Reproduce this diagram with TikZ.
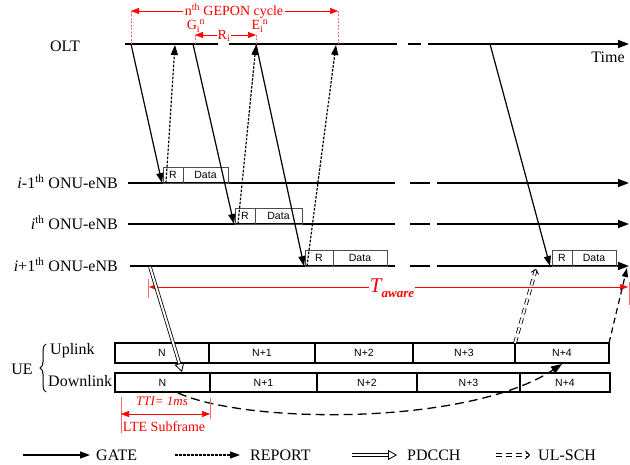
\documentclass[tikz,border=0pt]{standalone}
\usepackage{fontspec}
\setmainfont{Liberation Serif}
\newfontfamily\arialf{Liberation Sans}
\usetikzlibrary{arrows.meta,decorations.pathreplacing}
\begin{document}
\begin{tikzpicture}[x=1pt,y=-1pt,
  tl/.style={line width=1.5pt},
  tlarr/.style={line width=1.5pt,-{Triangle[length=11pt,width=8pt]}},
  gate/.style={line width=1.2pt,-{Triangle[length=10pt,width=7pt]}},
  report/.style={line width=1.2pt,dash pattern=on 2.5pt off 1.5pt,-{Triangle[length=10pt,width=7pt]}},
  pdcch/.style={double,double distance=2pt,line width=0.8pt,-{Triangle[open,length=9pt,width=10pt]}},
  ulsch/.style={double,double distance=2pt,line width=0.8pt,dash pattern=on 6pt off 4pt,-{Straight Barb[length=4pt,width=8pt]}},
  redarr/.style={red,line width=0.5pt,{Triangle[length=8pt,width=6pt]}-{Triangle[length=8pt,width=6pt]}},
  guide/.style={red!60,line width=0.4pt,dash pattern=on 2pt off 1.5pt},
  tick/.style={red!60,line width=0.5pt},
  lbl/.style={font=\fontsize{16}{16}\selectfont,inner sep=0},
  rlbl/.style={text=red,font=\fontsize{14}{14}\selectfont,inner sep=0},
  rbox/.style={draw=black!70,line width=0.6pt,minimum height=16pt,inner sep=0,outer sep=0,font=\arialf\fontsize{10.5}{11}\selectfont},
  ubox/.style={draw,line width=1.3pt,minimum height=20pt,inner sep=0,outer sep=0,font=\arialf\fontsize{10.5}{11}\selectfont},
]
\useasboundingbox (0,0) rectangle (630,465);

% ---- OLT time line ----
\coordinate (oltS) at (125,44);
\coordinate (oltA) at (218,44);
\coordinate (oltB) at (229,44);
\coordinate (oltC) at (397,44);
\coordinate (oltD) at (408,44);
\coordinate (oltE) at (421,44);
\coordinate (oltF) at (428,44);
\coordinate (oltEnd) at (629,44);
\draw[tl] (oltS) -- (oltA);
\draw[tl] (oltB) -- (oltC);
\draw[tl] (oltD) -- (oltE);
\draw[tlarr] (oltF) -- (oltEnd);
\node[lbl] (oltlbl) at (65,46) {OLT};
\node[lbl] (time) at (608,57) {Time};

% ---- ONU time lines ----
\foreach \n/\s/\y in {a/128/183,b/128/224,c/130/266}{
  \coordinate (\n0) at (\s,\y);
  \coordinate (\n1) at (395,\y);
  \coordinate (\n2) at (410,\y);
  \coordinate (\n3) at (430,\y);
  \coordinate (\n4) at (437,\y);
  \coordinate (\n5) at (629,\y);
  \draw[tl] (\n0) -- (\n1);
  \draw[tl] (\n2) -- (\n3);
  \draw[tlarr] (\n4) -- (\n5);
}
\node[lbl,anchor=east] (la) at (118,182) {\textit{i}-1\textsuperscript{th} ONU-eNB};
\node[lbl,anchor=east] (lb) at (118,223) {\textit{i}\textsuperscript{th} ONU-eNB};
\node[lbl,anchor=east] (lc) at (118,265) {\textit{i}+1\textsuperscript{th} ONU-eNB};

% ---- R / Data boxes ----
\node[rbox,minimum width=20pt] (Ra) at (173,175) {R};
\node[rbox,minimum width=45pt] (Da) at (205.5,175) {Data};
\node[rbox,minimum width=20pt] (Rb) at (245,216) {R};
\node[rbox,minimum width=47pt] (Db) at (278.5,216) {Data};
\node[rbox,minimum width=28pt] (Rc) at (319,258) {R};
\node[rbox,minimum width=54pt] (Dc) at (360,258) {Data};
\node[rbox,minimum width=20pt] (Rd) at (562,258) {R};
\node[rbox,minimum width=44pt] (Dd) at (594,258) {Data};

% ---- GATE arrows ----
\coordinate (g1) at (131,44);  \coordinate (g1e) at (162,183);
\coordinate (g2) at (193,44);  \coordinate (g2e) at (234,224);
\coordinate (g3) at (256,44);  \coordinate (g3e) at (304,266);
\coordinate (g4) at (490,44);  \coordinate (g4e) at (550,266);
\draw[gate] (g1) -- (g1e);
\draw[gate] (g2) -- (g2e);
\draw[gate] (g3) -- (g3e);
\draw[gate] (g4) -- (g4e);

% ---- REPORT arrows ----
\coordinate (r1) at (166,183); \coordinate (r1e) at (175,45);
\coordinate (r2) at (238,224); \coordinate (r2e) at (256,45);
\coordinate (r3) at (307,266); \coordinate (r3e) at (336,45);
\draw[report] (r1) -- (r1e);
\draw[report] (r2) -- (r2e);
\draw[report] (r3) -- (r3e);

% ---- red annotations top ----
\coordinate (cycL) at (131,11);
\coordinate (cycR) at (338,11);
\draw[guide] (cycL) -- (131,44);
\draw[guide] (cycR) -- (338,44);
\draw[redarr] (cycL) -- (cycR);
\node[rlbl,fill=white,inner xsep=2pt] (cyc) at (234,11) {n\textsuperscript{th} GEPON cycle};
\node[rlbl,anchor=base] (Gin) at (196,30) {G\textsubscript{i}\kern-0.5pt\textsuperscript{n}};
\node[rlbl,anchor=base] (Ein) at (260,30) {E\textsubscript{i}\kern-0.5pt\textsuperscript{n}};
\coordinate (riL) at (195,35);
\coordinate (riR) at (256,35);
\draw[guide] (riL) -- (195,44);
\draw[guide] (riR) -- (256,44);
\draw[redarr] (riL) -- (riR);
\node[rlbl,fill=white,inner xsep=1pt] (Ri) at (224,36) {R\textsubscript{i}};

% ---- T aware ----
\coordinate (taL) at (149,287);
\coordinate (taR) at (628,287);
\draw[tick] (148,279) -- (148,298);
\draw[tick] (629,282) -- (629,305);
\draw[redarr] (taL) -- (taR);
\node[fill=white,text=red,inner sep=1pt] (taw) at (392,288)
  {\fontsize{21}{21}\selectfont\itshape T\raisebox{-0.25em}{\fontsize{13}{13}\selectfont\bfseries\itshape aware}};

% ---- UE frames ----
\node[lbl] (ue) at (22,369) {UE};
\coordinate (brB) at (46,392);
\coordinate (brT) at (46,344);
\draw[line width=1pt,decorate,decoration={brace,amplitude=6pt,aspect=0.5}] (brB) -- (brT);
\node[lbl,anchor=west] (upl) at (50,351) {Uplink};
\node[lbl,anchor=west] (dnl) at (48,381) {Downlink};

\node[ubox,minimum width=94pt] (up0) at (162,353) {N};
\node[ubox,minimum width=106pt] (up1) at (262,353) {N+1};
\node[ubox,minimum width=98pt] (up2) at (364,353) {N+2};
\node[ubox,minimum width=102pt] (up3) at (464,353) {N+3};
\node[ubox,minimum width=94pt] (up4) at (562,353) {N+4};

\node[ubox,minimum width=95pt,minimum height=19pt] (dn0) at (162.5,382.5) {N};
\node[ubox,minimum width=107pt,minimum height=19pt] (dn1) at (263.5,382.5) {N+1};
\node[ubox,minimum width=100pt,minimum height=19pt] (dn2) at (367,382.5) {N+2};
\node[ubox,minimum width=103pt,minimum height=19pt] (dn3) at (468.5,382.5) {N+3};
\node[ubox,minimum width=90pt,minimum height=19pt] (dn4) at (565,382.5) {N+4};

% ---- PDCCH / UL-SCH / curve ----
\coordinate (pd0) at (150,267);
\coordinate (pd1) at (182,372);
\draw[pdcch] (pd0) -- (pd1);
\coordinate (ul1) at (536,269);
\coordinate (ul2) at (627,268);
\draw[ulsch] (up4.north west) -- (ul1);
\draw[line width=1.2pt,dash pattern=on 6pt off 4pt,-{Triangle[length=9pt,width=6pt]}] (up4.north east) -- (ul2);
\coordinate (cv0) at (178,393);
\coordinate (cv1) at (562,364);
\draw[line width=1.3pt,dash pattern=on 9pt off 5pt,-{Triangle[length=11pt,width=8pt]}]
  (cv0) .. controls (250,425) and (470,425) .. (cv1);

% ---- TTI ----
\coordinate (ttL) at (121,414);
\coordinate (ttR) at (210,414);
\draw[tick] (121,397) -- (121,433);
\draw[tick] (210,398) -- (210,419);
\draw[redarr] (ttL) -- (ttR);
\node[text=red,font=\fontsize{13}{13}\selectfont\itshape,inner sep=0] (tti) at (162,401) {TTI= 1ms};
\node[rlbl] (lte) at (164,427) {LTE Subframe};

% ---- legend ----
\coordinate (lg1) at (23,455);  \coordinate (lg1e) at (90,455);
\coordinate (lg2) at (175,455); \coordinate (lg2e) at (240,455);
\coordinate (lg3) at (352,455); \coordinate (lg3e) at (397,455);
\coordinate (lg4) at (496,455); \coordinate (lg4e) at (530,455);
\draw[gate] (lg1) -- (lg1e);
\node[lbl,anchor=west] (lgt1) at (96,455) {GATE};
\draw[report] (lg2) -- (lg2e);
\node[lbl,anchor=west] (lgt2) at (250,455) {REPORT};
\draw[pdcch] (lg3) -- (lg3e);
\node[lbl,anchor=west] (lgt3) at (407,455) {PDCCH};
\draw[ulsch] (lg4) -- (lg4e);
\node[lbl,anchor=west] (lgt4) at (538,455) {UL-SCH};
\end{tikzpicture}
\end{document}
